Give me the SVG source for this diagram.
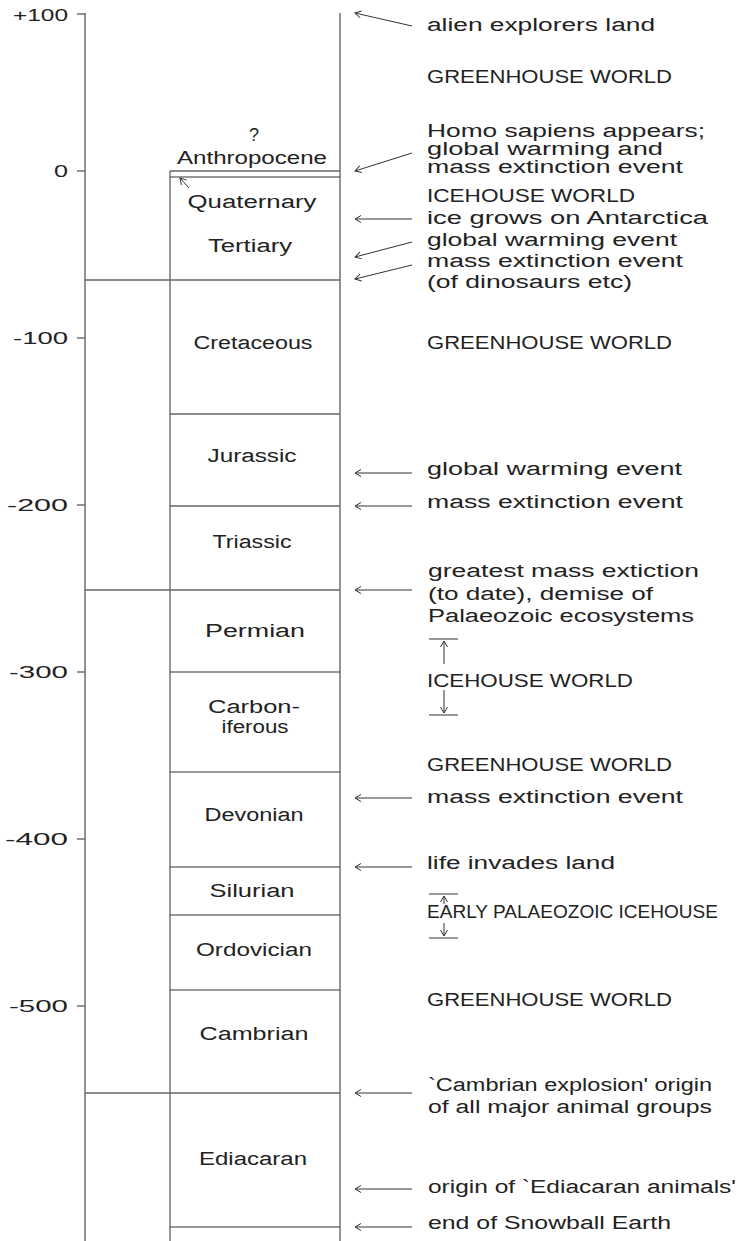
<svg xmlns="http://www.w3.org/2000/svg" width="738" height="1241" viewBox="0 0 738 1241">
<style>
.t{font-family:"Liberation Sans",Arial,sans-serif;font-size:18px;fill:#222}
.c{text-anchor:middle}
.k{font-size:17px;text-anchor:end}
.g{stroke:#666;stroke-width:1.4;fill:none}
.d{stroke:#333;stroke-width:1;fill:none}
.a{stroke:#333;stroke-width:1;fill:none;marker-end:url(#ah)}
</style>
<defs>
<marker id="ah" markerWidth="10" markerHeight="10" viewBox="-8 -5 10 10" refX="0" refY="0" orient="auto" markerUnits="userSpaceOnUse">
<path d="M-6,-3.5 L0,0 L-6,3.5" fill="none" stroke="#333" stroke-width="1"/>
</marker>
</defs>
<g id="axis">
<line class="g" x1="85" y1="13" x2="85" y2="1241"/>
<line class="g" x1="77" y1="14" x2="85" y2="14"/>
<line class="g" x1="77" y1="171" x2="85" y2="171"/>
<line class="g" x1="77" y1="338" x2="85" y2="338"/>
<line class="g" x1="77" y1="505" x2="85" y2="505"/>
<line class="g" x1="77" y1="672" x2="85" y2="672"/>
<line class="g" x1="77" y1="839" x2="85" y2="839"/>
<line class="g" x1="77" y1="1006" x2="85" y2="1006"/>
<text class="t k" x="68" y="21" textLength="55" lengthAdjust="spacingAndGlyphs">+100</text>
<text class="t k" x="68" y="177" textLength="14" lengthAdjust="spacingAndGlyphs">0</text>
<text class="t k" x="68" y="344" textLength="55" lengthAdjust="spacingAndGlyphs">-100</text>
<text class="t k" x="68" y="511" textLength="61" lengthAdjust="spacingAndGlyphs">-200</text>
<text class="t k" x="68" y="678" textLength="59" lengthAdjust="spacingAndGlyphs">-300</text>
<text class="t k" x="68" y="845" textLength="63" lengthAdjust="spacingAndGlyphs">-400</text>
<text class="t k" x="68" y="1012" textLength="59" lengthAdjust="spacingAndGlyphs">-500</text>
</g>
<g id="column">
<line class="g" x1="340" y1="13" x2="340" y2="1241"/>
<line class="d" x1="170" y1="171" x2="170" y2="1241"/>
<line class="g" x1="170" y1="171" x2="340" y2="171"/>
<line class="d" x1="170" y1="177" x2="340" y2="177"/>
<line class="g" x1="85" y1="280" x2="340" y2="280"/>
<line class="g" x1="170" y1="414" x2="340" y2="414"/>
<line class="g" x1="170" y1="506" x2="340" y2="506"/>
<line class="g" x1="85" y1="590" x2="340" y2="590"/>
<line class="d" x1="170" y1="672" x2="340" y2="672"/>
<line class="d" x1="170" y1="772" x2="340" y2="772"/>
<line class="d" x1="170" y1="867" x2="340" y2="867"/>
<line class="d" x1="170" y1="915" x2="340" y2="915"/>
<line class="d" x1="170" y1="990" x2="340" y2="990"/>
<line class="g" x1="85" y1="1093" x2="340" y2="1093"/>
<line class="d" x1="170" y1="1227" x2="340" y2="1227"/>
</g>
<g id="periods">
<text class="t c" x="254" y="141">?</text>
<text class="t c" x="252" y="164" textLength="150" lengthAdjust="spacingAndGlyphs">Anthropocene</text>
<text class="t c" x="252" y="208" textLength="129" lengthAdjust="spacingAndGlyphs">Quaternary</text>
<text class="t c" x="250" y="252" textLength="84" lengthAdjust="spacingAndGlyphs">Tertiary</text>
<text class="t c" x="253" y="349" textLength="119" lengthAdjust="spacingAndGlyphs">Cretaceous</text>
<text class="t c" x="252" y="462" textLength="89" lengthAdjust="spacingAndGlyphs">Jurassic</text>
<text class="t c" x="252" y="548" textLength="79" lengthAdjust="spacingAndGlyphs">Triassic</text>
<text class="t c" x="255" y="637" textLength="100" lengthAdjust="spacingAndGlyphs">Permian</text>
<text class="t c" x="254" y="713" textLength="92" lengthAdjust="spacingAndGlyphs">Carbon-</text>
<text class="t c" x="255" y="733" textLength="67" lengthAdjust="spacingAndGlyphs">iferous</text>
<text class="t c" x="254" y="821" textLength="99" lengthAdjust="spacingAndGlyphs">Devonian</text>
<text class="t c" x="252" y="897" textLength="85" lengthAdjust="spacingAndGlyphs">Silurian</text>
<text class="t c" x="254" y="956" textLength="116" lengthAdjust="spacingAndGlyphs">Ordovician</text>
<text class="t c" x="254" y="1040" textLength="109" lengthAdjust="spacingAndGlyphs">Cambrian</text>
<text class="t c" x="253" y="1165" textLength="108" lengthAdjust="spacingAndGlyphs">Ediacaran</text>
</g>
<g id="connectors">
<line class="a" x1="189" y1="188" x2="180" y2="178"/>
<line class="a" x1="412" y1="26" x2="355" y2="13"/>
<line class="a" x1="412" y1="153" x2="355" y2="171"/>
<line class="a" x1="412" y1="219" x2="355" y2="219"/>
<line class="a" x1="412" y1="242" x2="355" y2="257"/>
<line class="a" x1="412" y1="265" x2="355" y2="279"/>
<line class="a" x1="412" y1="473" x2="355" y2="473"/>
<line class="a" x1="412" y1="506" x2="355" y2="506"/>
<line class="a" x1="412" y1="590" x2="355" y2="590"/>
<line class="a" x1="412" y1="798" x2="355" y2="798"/>
<line class="a" x1="412" y1="867" x2="355" y2="867"/>
<line class="a" x1="412" y1="1093" x2="355" y2="1093"/>
<line class="a" x1="412" y1="1189" x2="355" y2="1189"/>
<line class="a" x1="412" y1="1227" x2="355" y2="1227"/>
<line class="d" x1="429" y1="639" x2="458" y2="639"/>
<line class="a" x1="444" y1="664" x2="444" y2="641"/>
<line class="d" x1="429" y1="715" x2="458" y2="715"/>
<line class="a" x1="444" y1="690" x2="444" y2="713"/>
<line class="d" x1="429" y1="894" x2="458" y2="894"/>
<line class="a" x1="444" y1="904" x2="444" y2="896"/>
<line class="d" x1="429" y1="938" x2="458" y2="938"/>
<line class="a" x1="444" y1="923" x2="444" y2="936"/>
</g>
<g id="events">
<text class="t" x="427" y="31" textLength="228" lengthAdjust="spacingAndGlyphs">alien explorers land</text>
<text class="t" x="427" y="83" textLength="245" lengthAdjust="spacingAndGlyphs">GREENHOUSE WORLD</text>
<text class="t" x="427" y="137" textLength="278" lengthAdjust="spacingAndGlyphs">Homo sapiens appears;</text>
<text class="t" x="427" y="155" textLength="236" lengthAdjust="spacingAndGlyphs">global warming and</text>
<text class="t" x="427" y="173" textLength="256" lengthAdjust="spacingAndGlyphs">mass extinction event</text>
<text class="t" x="427" y="202" textLength="208" lengthAdjust="spacingAndGlyphs">ICEHOUSE WORLD</text>
<text class="t" x="427" y="224" textLength="281" lengthAdjust="spacingAndGlyphs">ice grows on Antarctica</text>
<text class="t" x="427" y="246" textLength="250" lengthAdjust="spacingAndGlyphs">global warming event</text>
<text class="t" x="427" y="267" textLength="256" lengthAdjust="spacingAndGlyphs">mass extinction event</text>
<text class="t" x="427" y="288" textLength="205" lengthAdjust="spacingAndGlyphs">(of dinosaurs etc)</text>
<text class="t" x="427" y="349" textLength="245" lengthAdjust="spacingAndGlyphs">GREENHOUSE WORLD</text>
<text class="t" x="427" y="475" textLength="255" lengthAdjust="spacingAndGlyphs">global warming event</text>
<text class="t" x="427" y="508" textLength="256" lengthAdjust="spacingAndGlyphs">mass extinction event</text>
<text class="t" x="428" y="577" textLength="271" lengthAdjust="spacingAndGlyphs">greatest mass extiction</text>
<text class="t" x="428" y="600" textLength="225" lengthAdjust="spacingAndGlyphs">(to date), demise of</text>
<text class="t" x="428" y="622" textLength="266" lengthAdjust="spacingAndGlyphs">Palaeozoic ecosystems</text>
<text class="t" x="427" y="687" textLength="206" lengthAdjust="spacingAndGlyphs">ICEHOUSE WORLD</text>
<text class="t" x="427" y="771" textLength="245" lengthAdjust="spacingAndGlyphs">GREENHOUSE WORLD</text>
<text class="t" x="427" y="803" textLength="256" lengthAdjust="spacingAndGlyphs">mass extinction event</text>
<text class="t" x="427" y="869" textLength="188" lengthAdjust="spacingAndGlyphs">life invades land</text>
<text class="t" x="427" y="918" textLength="291" lengthAdjust="spacingAndGlyphs">EARLY PALAEOZOIC ICEHOUSE</text>
<text class="t" x="427" y="1006" textLength="245" lengthAdjust="spacingAndGlyphs">GREENHOUSE WORLD</text>
<text class="t" x="428" y="1091" textLength="284" lengthAdjust="spacingAndGlyphs">`Cambrian explosion' origin</text>
<text class="t" x="428" y="1113" textLength="284" lengthAdjust="spacingAndGlyphs">of all major animal groups</text>
<text class="t" x="428" y="1193" textLength="308" lengthAdjust="spacingAndGlyphs">origin of `Ediacaran animals'</text>
<text class="t" x="428" y="1229" textLength="243" lengthAdjust="spacingAndGlyphs">end of Snowball Earth</text>
</g>
</svg>
